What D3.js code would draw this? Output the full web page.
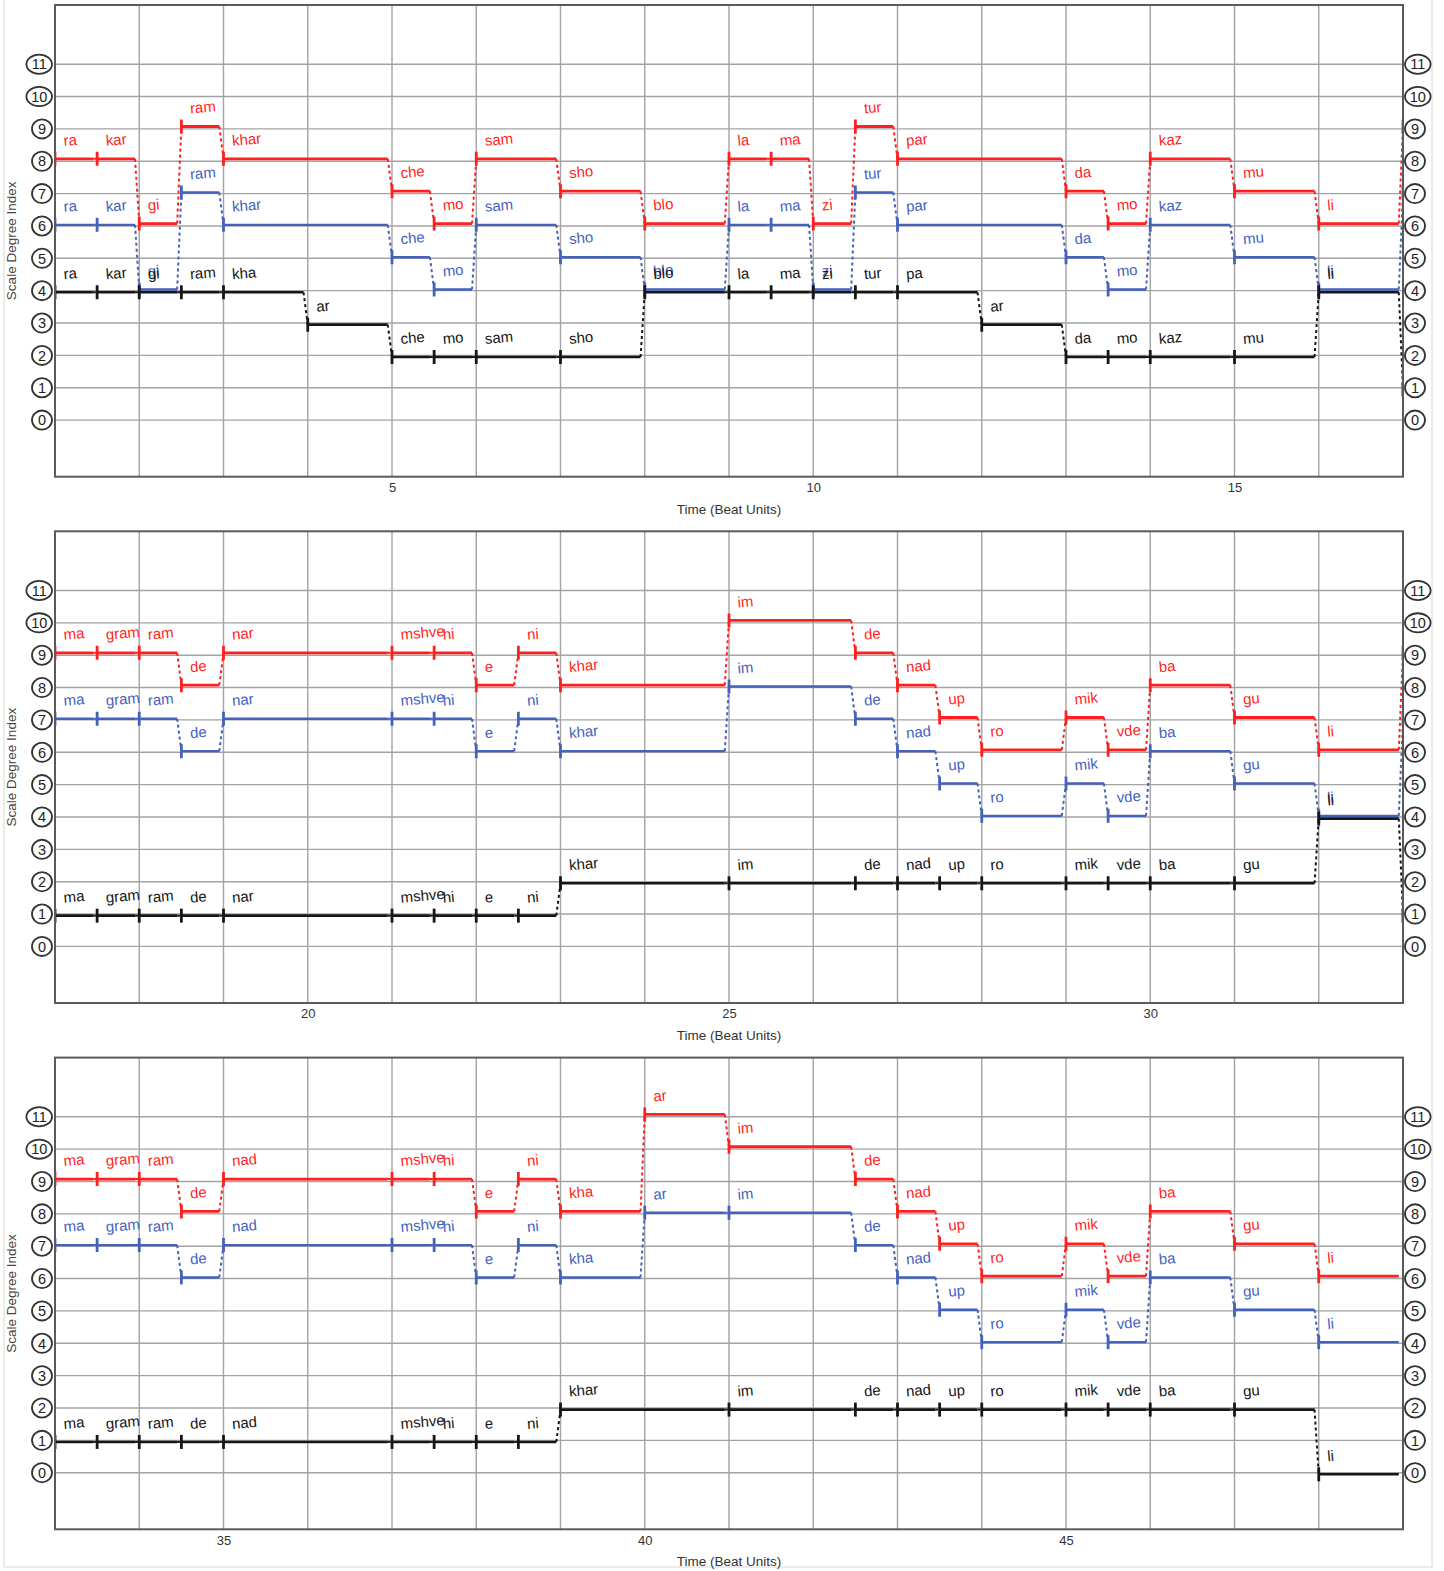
<!DOCTYPE html>
<html>
<head>
<meta charset="utf-8">
<script src="https://cdn.jsdelivr.net/npm/d3@7"></script>
<style>
  html, body { margin: 0; padding: 0; background: #fff; }
  svg { display: block; font-family: "Liberation Sans", Arial, Helvetica, sans-serif; }
</style>
</head>
<body>
<svg id="chart" width="1444" height="1571"></svg>
<script>
// ---------------- DATA ----------------
// Upper voices (red and blue share syllables and rhythm)
const upperSyllables = [
  "ra","kar","gi","ram","khar","che","mo","sam","sho","blo","la","ma","zi","tur","par","da","mo","kaz","mu","li",
  "ma","gram","ram","de","nar","mshve","hi","e","ni","khar","im","de","nad","up","ro","mik","vde","ba","gu","li",
  "ma","gram","ram","de","nad","mshve","hi","e","ni","kha","ar","im","de","nad","up","ro","mik","vde","ba","gu","li"
];
const upperOnsets = [
  1,1.5,2,2.5,3,5,5.5,6,7,8,9,9.5,10,10.5,11,13,13.5,14,15,16,
  17,17.5,18,18.5,19,21,21.5,22,22.5,23,25,26.5,27,27.5,28,29,29.5,30,31,32,
  33,33.5,34,34.5,35,37,37.5,38,38.5,39,40,41,42.5,43,43.5,44,45,45.5,46,47,48
];
const upperDurations = [
  0.5,0.5,0.5,0.5,2,0.5,0.5,1,1,1,0.5,0.5,0.5,0.5,2,0.5,0.5,1,1,1,
  0.5,0.5,0.5,0.5,2,0.5,0.5,0.5,0.5,2,1.5,0.5,0.5,0.5,1,0.5,0.5,1,1,1,
  0.5,0.5,0.5,0.5,2,0.5,0.5,0.5,0.5,1,1,1.5,0.5,0.5,0.5,1,0.5,0.5,1,1,1
];
const redDegrees = [
  8,8,6,9,8,7,6,8,7,6,8,8,6,9,8,7,6,8,7,6,
  9,9,9,8,9,9,9,8,9,8,10,9,8,7,6,7,6,8,7,6,
  9,9,9,8,9,9,9,8,9,8,11,10,9,8,7,6,7,6,8,7,6
];
const blueDegrees = [
  6,6,4,7,6,5,4,6,5,4,6,6,4,7,6,5,4,6,5,4,
  7,7,7,6,7,7,7,6,7,6,8,7,6,5,4,5,4,6,5,4,
  7,7,7,6,7,7,7,6,7,6,8,8,7,6,5,4,5,4,6,5,4
];
// Lower voice (black)
const lowerSyllables = [
  "ra","kar","gi","ram","kha","ar","che","mo","sam","sho","blo","la","ma","zi","tur","pa","ar","da","mo","kaz","mu","li",
  "ma","gram","ram","de","nar","mshve","hi","e","ni","khar","im","de","nad","up","ro","mik","vde","ba","gu","li",
  "ma","gram","ram","de","nad","mshve","hi","e","ni","khar","im","de","nad","up","ro","mik","vde","ba","gu","li"
];
const lowerOnsets = [
  1,1.5,2,2.5,3,4,5,5.5,6,7,8,9,9.5,10,10.5,11,12,13,13.5,14,15,16,
  17,17.5,18,18.5,19,21,21.5,22,22.5,23,25,26.5,27,27.5,28,29,29.5,30,31,32,
  33,33.5,34,34.5,35,37,37.5,38,38.5,39,41,42.5,43,43.5,44,45,45.5,46,47,48
];
const lowerDurations = [
  0.5,0.5,0.5,0.5,1,1,0.5,0.5,1,1,1,0.5,0.5,0.5,0.5,1,1,0.5,0.5,1,1,1,
  0.5,0.5,0.5,0.5,2,0.5,0.5,0.5,0.5,2,1.5,0.5,0.5,0.5,1,0.5,0.5,1,1,1,
  0.5,0.5,0.5,0.5,2,0.5,0.5,0.5,0.5,2,1.5,0.5,0.5,0.5,1,0.5,0.5,1,1,1
];
const blackDegrees = [
  4,4,4,4,4,3,2,2,2,2,4,4,4,4,4,4,3,2,2,2,2,4,
  1,1,1,1,1,1,1,1,1,2,2,2,2,2,2,2,2,2,2,4,
  1,1,1,1,1,1,1,1,1,2,2,2,2,2,2,2,2,2,2,0
];
const panelStarts = [1, 17, 33];
const beatsPerPanel = 16;
const timeTicks = [5, 10, 15, 20, 25, 30, 35, 40, 45];
const degreeTicks = [0,1,2,3,4,5,6,7,8,9,10,11];
const xTitle = "Time (Beat Units)";
const yTitle = "Scale Degree Index";

// ---------------- LAYOUT / STYLE ----------------
const plotL = 55, plotR = 1403;
const panelTop0 = 5, panelBot0 = 476.7, panelStep = 526.3;
const yDomain = [-1.75, 12.83];
const gapBeats = 0.05;

const voices = [
  { color: "#ff1f1f", width: 2.8, off: 0.075, syl: upperSyllables, on: upperOnsets, dur: upperDurations, deg: redDegrees },
  { color: "#4462bd", width: 2.4, off: 0.035, syl: upperSyllables, on: upperOnsets, dur: upperDurations, deg: blueDegrees },
  { color: "#161616", width: 2.6, off: -0.05, syl: lowerSyllables, on: lowerOnsets, dur: lowerDurations, deg: blackDegrees }
];

const svg = d3.select("#chart");
// light outer frame
svg.append("rect").attr("x", 4).attr("y", -2).attr("width", 1428).attr("height", 1569)
  .attr("fill", "none").attr("stroke", "#d8d8d8").attr("stroke-width", 1);

panelStarts.forEach((start, pi) => {
  const end = start + beatsPerPanel;
  const top = panelTop0 + pi * panelStep;
  const bot = panelBot0 + pi * panelStep;
  const x = d3.scaleLinear().domain([start, end]).range([plotL, plotR]);
  const y = d3.scaleLinear().domain(yDomain).range([bot, top]);
  const g = svg.append("g");

  const clipId = "clip" + pi;
  svg.append("clipPath").attr("id", clipId)
    .append("rect").attr("x", plotL).attr("y", top).attr("width", plotR - plotL).attr("height", bot - top);

  // vertical grid (every beat)
  const beats = d3.range(start, end + 1);
  g.append("g").selectAll("line").data(beats).join("line")
    .attr("x1", d => x(d)).attr("x2", d => x(d)).attr("y1", top).attr("y2", bot)
    .attr("stroke", "#a3a3a3").attr("stroke-width", 1.4);
  // horizontal grid
  g.append("g").selectAll("line").data(degreeTicks).join("line")
    .attr("x1", plotL).attr("x2", plotR).attr("y1", d => y(d)).attr("y2", d => y(d))
    .attr("stroke", "#a3a3a3").attr("stroke-width", 1.4);

  // x axis tick labels
  const xAxis = d3.axisBottom(x)
    .tickValues(timeTicks.filter(t => t > start && t < end))
    .tickSize(0).tickPadding(6).tickFormat(d3.format("d"));
  const ax = g.append("g").attr("transform", `translate(0,${bot})`).call(xAxis);
  ax.select(".domain").remove();
  ax.selectAll("text").attr("font-size", 13).attr("fill", "#333")
    .attr("font-family", "'Liberation Sans', Arial, sans-serif");

  // axis titles
  g.append("text").attr("x", (plotL + plotR) / 2).attr("y", bot + 37)
    .attr("text-anchor", "middle").attr("font-size", 13.5).attr("fill", "#333").text(xTitle);
  g.append("text")
    .attr("transform", `translate(16,${(top + bot) / 2}) rotate(-90)`)
    .attr("text-anchor", "middle").attr("font-size", 13.5).attr("fill", "#444").text(yTitle);

  // circled degree labels, both sides
  [["left", plotL - 3], ["right", plotR + 2]].forEach(([side, edge]) => {
    const cg = g.append("g").selectAll("g").data(degreeTicks).join("g")
      .attr("transform", d => {
        const rx = d >= 10 ? 12.8 : 10;
        const cx = side === "left" ? edge - rx : edge + rx;
        return `translate(${cx},${y(d)})`;
      });
    cg.append("ellipse").attr("rx", d => d >= 10 ? 12.8 : 10).attr("ry", 9.6)
      .attr("fill", "#fff").attr("stroke", "#333").attr("stroke-width", 1.8);
    cg.append("text").attr("text-anchor", "middle").attr("dy", "0.36em")
      .attr("font-size", 14.5).attr("fill", "#222").text(d => d);
  });

  // voices
  const marks = g.append("g").attr("clip-path", `url(#${clipId})`);
  voices.forEach(v => {
    const all = v.on.map((o, i) => ({ on: o, dur: v.dur[i], deg: v.deg[i], syl: v.syl[i] }));
    // notes inside this panel, plus the first note of the next panel (its onset tick sits on the right edge)
    const notes = all.filter(n => n.on >= start && n.on <= end);
    const inside = notes.filter(n => n.on < end);
    const vg = marks.append("g");
    const yy = d => y(d + v.off);
    const endX = n => x(Math.min(n.on + n.dur, end) - gapBeats);
    // connectors
    const conns = notes.slice(0, -1).map((n, i) => ({ a: n, b: notes[i + 1] }));
    vg.append("g").selectAll("line").data(conns).join("line")
      .attr("x1", c => endX(c.a)).attr("y1", c => yy(c.a.deg))
      .attr("x2", c => x(c.b.on)).attr("y2", c => yy(c.b.deg))
      .attr("stroke", v.color).attr("stroke-width", 2).attr("stroke-dasharray", "3,3");
    // horizontal note lines
    vg.append("g").selectAll("line").data(inside).join("line")
      .attr("x1", n => x(n.on)).attr("x2", endX)
      .attr("y1", n => yy(n.deg)).attr("y2", n => yy(n.deg))
      .attr("stroke", v.color).attr("stroke-width", v.width);
    // onset ticks
    vg.append("g").selectAll("line").data(notes).join("line")
      .attr("x1", n => x(n.on)).attr("x2", n => x(n.on))
      .attr("y1", n => yy(n.deg) - 7).attr("y2", n => yy(n.deg) + 7)
      .attr("stroke", v.color).attr("stroke-width", 2.8);
    // syllable labels
    vg.append("g").selectAll("text").data(inside).join("text")
      .attr("transform", n => `translate(${x(n.on) + 9},${yy(n.deg) - 13}) rotate(-5)`)
      .attr("font-size", 15).attr("fill", v.color).text(n => n.syl);
  });

  // plot border
  g.append("rect").attr("x", plotL).attr("y", top).attr("width", plotR - plotL).attr("height", bot - top)
    .attr("fill", "none").attr("stroke", "#5a5a5a").attr("stroke-width", 2);
});
</script>
</body>
</html>
